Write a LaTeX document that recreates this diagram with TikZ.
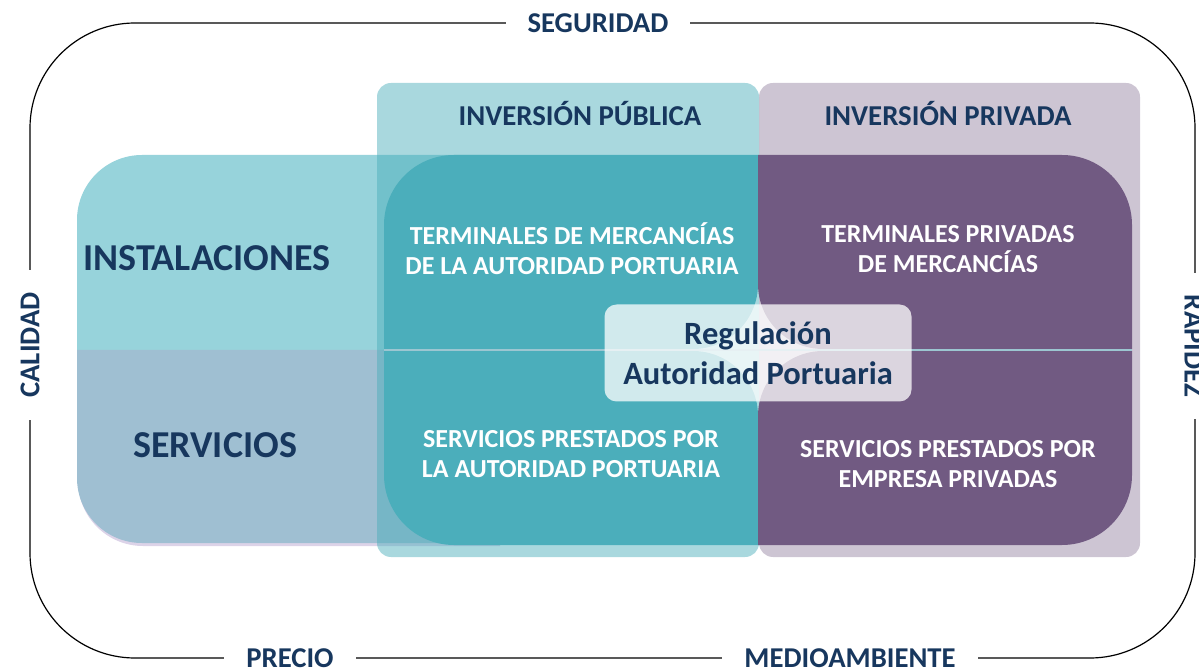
\documentclass[tikz,border=0pt]{standalone}
\usepackage{fontspec}
\setmainfont{Carlito}

\definecolor{navy}{HTML}{17375E}
\definecolor{tealdark}{HTML}{4BAEBB}
\definecolor{purpledark}{HTML}{715A82}
\definecolor{instcol}{HTML}{97D3DB}
\definecolor{servcol}{HTML}{9FBFD2}
\definecolor{shadowcol}{HTML}{DCD3E8}
\definecolor{linecol}{HTML}{9CC6D1}

\begin{document}
\begin{tikzpicture}[x=1pt, y=1pt,
  framelabel/.style={fill=white, text=navy, inner xsep=22pt, inner ysep=1pt,
    font=\bfseries\fontsize{28.7}{34}\selectfont},
  headlabel/.style={text=navy, font=\bfseries\fontsize{28.8}{34}\selectfont},
  rowlabel/.style={text=navy, font=\bfseries\fontsize{38}{45}\selectfont},
  celltext/.style={text=white, align=center, font=\bfseries\fontsize{26}{30}\selectfont},
  invbox/.style={rounded corners=14pt},
]
\useasboundingbox (0,0) rectangle (1199,670);

% outer frame
\draw[line width=1.2pt, rounded corners=105pt] (30,12) rectangle (1195,647);

% instalaciones / servicios
\fill[shadowcol] (500,317) -- (78,317) -- (78,189) arc[start angle=180, end angle=270, radius=65] -- (500,124) -- cycle;
\fill[instcol] (500,320) -- (77,320) -- (77,450) arc[start angle=180, end angle=90, radius=65] -- (500,515) -- cycle;
\fill[servcol] (500,320) -- (77,320) -- (77,192) arc[start angle=180, end angle=270, radius=65] -- (500,127) -- cycle;

% inversion publica / privada
\fill[invbox, tealdark, fill opacity=0.48] (377,113) rectangle (759,587);
\fill[invbox, purpledark, fill opacity=0.35] (759,113) rectangle (1140,587);

% cuadrantes
\fill[tealdark] (384,321) -- (384,445) arc[start angle=180, end angle=90, radius=70] -- (758,515)
  -- (758,386) arc[start angle=0, end angle=-90, radius=65] -- cycle;
\fill[tealdark] (384,319) -- (384,195) arc[start angle=180, end angle=270, radius=70] -- (758,125)
  -- (758,254) arc[start angle=0, end angle=90, radius=65] -- cycle;
\fill[purpledark] (1132,321) -- (1132,445) arc[start angle=0, end angle=90, radius=70] -- (758,515)
  -- (758,386) arc[start angle=180, end angle=270, radius=65] -- cycle;
\fill[purpledark] (1132,319) -- (1132,195) arc[start angle=0, end angle=-90, radius=70] -- (758,125)
  -- (758,254) arc[start angle=180, end angle=90, radius=65] -- cycle;
\draw[linecol, line width=1.5pt] (384,320) -- (1132,320);

% etiquetas del marco
\node(seg) [framelabel] at (598,647) {SEGURIDAD};
\node(cal) [framelabel, rotate=90] at (30,325) {CALIDAD};
\node(rap) [framelabel, rotate=-90] at (1194,324) {RAPIDEZ};
\node(pre) [framelabel] at (290,12) {PRECIO};
\node(med) [framelabel] at (850,12) {MEDIOAMBIENTE};

\node(pub) [headlabel] at (580,556) {INVERSIÓN PÚBLICA};
\node(pri) [headlabel] at (948,556) {INVERSIÓN PRIVADA};
\node(ins) [rowlabel] at (207,412) {INSTALACIONES};
\node(ser) [rowlabel] at (215,225) {SERVICIOS};

\node(tap) [celltext] at (572,421) {TERMINALES DE MERCANCÍAS\\DE LA AUTORIDAD PORTUARIA};
\node(tpr) [celltext] at (948,421) {TERMINALES PRIVADAS\\DE MERCANCÍAS};
\node(sap) [celltext] at (571,216) {SERVICIOS PRESTADOS POR\\LA AUTORIDAD PORTUARIA};
\node(spr) [celltext] at (948,206) {SERVICIOS PRESTADOS POR\\EMPRESA PRIVADAS};

\node(reg) [fill=white, fill opacity=0.75, text opacity=1, text=navy, rounded corners=12pt,
  minimum width=307pt, minimum height=97pt, align=center,
  font=\bfseries\fontsize{32.5}{40}\selectfont] at (758,317) {Regulación\\Autoridad Portuaria};

\end{tikzpicture}
\end{document}
